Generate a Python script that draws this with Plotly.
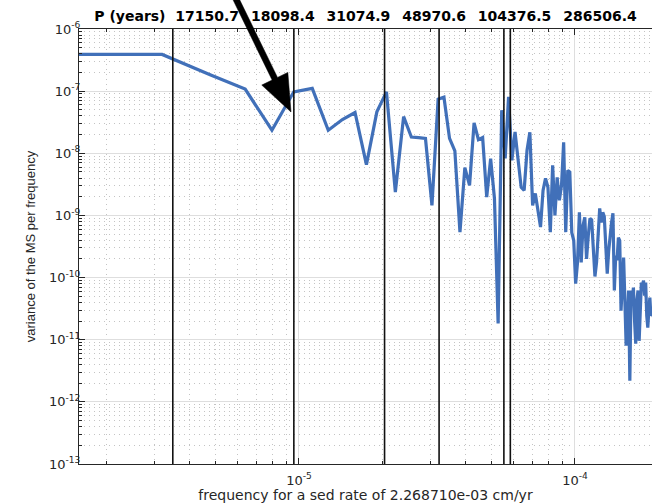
import numpy as np
import plotly.graph_objects as go

# Frequency resolution of the periodogram (cycles per year)
df_freq = 1.596e-6

# Variance of the MS signal per frequency bin (bins 1..121)
power = [
    3.9e-7, 3.9e-7, 1.82e-7, 1.08e-7, 2.35e-8, 9.75e-8, 1.11e-7, 2.35e-8, 3.5e-8, 4.53e-8,
    6.58e-9, 4.64e-8, 9.75e-8, 2.38e-9, 3.88e-8, 1.83e-8, 1.79e-8, 1.73e-8, 1.45e-9, 7.43e-8,
    8.0e-8, 1.74e-8, 1.09e-8, 5.38e-10, 5.88e-9, 3.05e-9, 3.08e-8, 1.66e-8, 1.79e-8, 1.97e-9,
    8.22e-9, 1.88e-9, 1.83e-11, 4.94e-8, 8.3e-9, 8.1e-8, 7.7e-9, 2.2e-8, 7.7e-9, 2.83e-9,
    2.53e-9, 1.12e-8, 2.18e-8, 1.45e-9, 2.26e-9, 1.2e-9, 6.5e-10, 2.53e-9, 3.95e-9, 2.83e-9,
    5.38e-10, 6.4e-9, 1.0e-9, 4.1e-9, 1.75e-9, 3.05e-9, 1.5e-8, 5.38e-10, 5.3e-9, 5.0e-9,
    5.3e-10, 3.95e-10, 8.0e-11, 1.75e-10, 1.12e-9, 1.75e-10, 6.9e-10, 9.3e-10, 2.0e-10, 4.75e-10,
    8.95e-10, 8.5e-10, 3.3e-10, 1.04e-10, 1.75e-10, 5.7e-10, 1.3e-9, 7.7e-10, 1.12e-9, 9.6e-10,
    3.95e-10, 1.16e-10, 2.7e-10, 5.3e-10, 7.7e-10, 1.08e-9, 6.2e-11, 2.26e-10, 1.9e-10, 4.4e-10,
    3.95e-10, 2.94e-11, 8.0e-11, 2.1e-10, 4.26e-11, 8.0e-12, 2.0e-11, 6.2e-11, 2.18e-12, 6.2e-11,
    4.26e-11, 6.9e-11, 2.0e-11, 8.6e-12, 4.26e-11, 6.2e-11, 9.6e-12, 4.26e-11, 8.3e-11, 7.7e-11,
    8.9e-11, 5.1e-11, 8.3e-11, 2.44e-11, 1.56e-11, 2.94e-11, 4.75e-11, 2.44e-11, 2.6e-11, 3.0e-11,
    2.0e-11,
]
freq = df_freq * np.arange(1, len(power) + 1)

# Orbital periods marked on the spectrum (years)
periods = [17150.7, 18098.4, 31074.9, 48970.6, 104376.5, 286506.4]
sed_rate = "2.268710e-03"

x_range = [np.log10(df_freq), -3.721]
y_range = [-13, -6]

fig = go.Figure()

fig.add_trace(go.Scatter(
    x=freq, y=power, mode="lines",
    line=dict(color="#4170B9", width=3.2),
    showlegend=False, hoverinfo="skip",
))

# Vertical markers at 1/P
vx, vy = [], []
for p in periods:
    vx += [1.0 / p, 1.0 / p, None]
    vy += [10 ** y_range[0], 10 ** y_range[1], None]
fig.add_trace(go.Scatter(
    x=vx, y=vy, mode="lines",
    line=dict(color="#111111", width=1.6),
    showlegend=False, hoverinfo="skip",
))

gap = "\u2002 "
title_text = "P (years)\u00a0 " + gap.join(f"{p:.1f}" for p in periods)

minor_x = [m * 10.0 ** e for e in range(-6, -3) for m in range(2, 10)]
minor_y = [m * 10.0 ** e for e in range(-13, -6) for m in range(2, 10)]

grid_major = "#dedede"
grid_minor = "#c4c4c4"
axis_col = "#262626"

fig.update_xaxes(
    type="log", range=x_range,
    tickvals=[1e-5, 1e-4], ticktext=["10<sup>-5</sup>", "10<sup>-4</sup>"],
    ticks="inside", ticklen=6, tickcolor=axis_col,
    showline=True, linecolor=axis_col, linewidth=1, mirror="ticks",
    showgrid=True, gridcolor=grid_major, gridwidth=1,
    zeroline=False, ticklabelstandoff=4,
    minor=dict(tickvals=minor_x, ticks="inside", ticklen=3, tickcolor=axis_col,
               showgrid=True, gridcolor=grid_minor, griddash="1px,4px", gridwidth=1),
    tickfont=dict(family="DejaVu Sans", size=13, color=axis_col),
    title=dict(text=f"frequency for a sed rate of {sed_rate} cm/yr",
               font=dict(family="DejaVu Sans", size=14, color=axis_col), standoff=2),
)
fig.update_yaxes(
    type="log", range=y_range,
    tickvals=[10.0 ** e for e in range(-13, -5)],
    ticktext=[f"10<sup>{e}</sup>" for e in range(-13, -5)],
    ticks="inside", ticklen=6, tickcolor=axis_col,
    showline=True, linecolor=axis_col, linewidth=1, mirror=False,
    showgrid=True, gridcolor=grid_major, gridwidth=1,
    zeroline=False, ticklabelstandoff=-5,
    minor=dict(tickvals=minor_y, ticks="inside", ticklen=3, tickcolor=axis_col,
               showgrid=True, gridcolor=grid_minor, griddash="1px,4px", gridwidth=1),
    tickfont=dict(family="DejaVu Sans", size=13, color=axis_col),
    title=dict(text="variance of the MS per frequency",
               font=dict(family="Liberation Sans, Arial", size=13, color=axis_col), standoff=10),
)

# Pointer arrow: tip location in paper fractions, geometry in pixels
tip_paper = ((291 - 79) / 573, (464 - 112) / 435)
direction = np.array([56.0, 115.0])
direction /= np.linalg.norm(direction)
perp = np.array([direction[1], -direction[0]])
head_len, head_half, shaft_half, total_len = 37.0, 14.5, 3.0, 135.0

pts = [
    np.zeros(2),
    -head_len * direction + head_half * perp,
    -head_len * direction + shaft_half * perp,
    -total_len * direction + shaft_half * perp,
    -total_len * direction - shaft_half * perp,
    -head_len * direction - shaft_half * perp,
    -head_len * direction - head_half * perp,
]
# screen y grows downwards; shape pixel offsets grow upwards
path = "M " + " L ".join(f"{px:.2f},{-py:.2f}" for px, py in pts) + " Z"
fig.add_shape(
    type="path", path=path,
    xref="paper", yref="paper", xsizemode="pixel", ysizemode="pixel",
    xanchor=tip_paper[0], yanchor=tip_paper[1],
    fillcolor="#000000", line=dict(color="#000000", width=0.5), layer="above",
)

fig.update_layout(
    width=652, height=503,
    margin=dict(l=79, r=0, t=29, b=39),
    paper_bgcolor="white", plot_bgcolor="white",
    title=dict(text=f"<b>{title_text}</b>", x=0.5, xref="paper",
               y=1 - 16 / 503, yref="container", yanchor="middle", xanchor="center",
               font=dict(family="DejaVu Sans", size=14, color="#000000")),
)

fig.write_html("out.html")
